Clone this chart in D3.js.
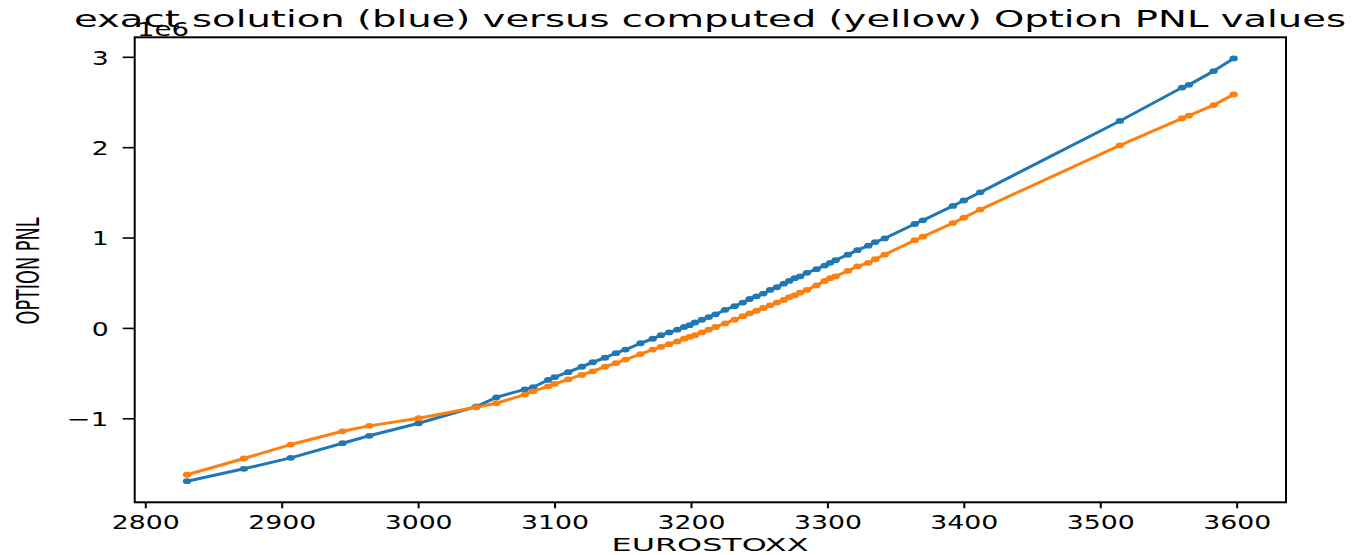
<!DOCTYPE html>
<html>
<head>
<meta charset="utf-8">
<script src="https://cdn.jsdelivr.net/npm/d3@7"></script>
<style>
  html, body { margin: 0; padding: 0; background: #fff; }
  svg { display: block; }
  text { font-family: "DejaVu Sans", sans-serif; fill: #000; }
</style>
</head>
<body>
<svg id="chart" width="1355" height="555"></svg>
<script>
// ---- data ----
const stoxx = [2830.6, 2872.3, 2906.6, 2944.6, 2964.2, 3000.4, 3042.6, 3057.4, 3078.2, 3084.3, 3095.3,
  3100, 3110, 3120, 3128, 3137, 3145, 3152, 3163, 3172, 3178, 3184, 3190, 3195, 3199, 3203, 3208, 3213,
  3218, 3225, 3232, 3238, 3243, 3248, 3253, 3258, 3263, 3268, 3272, 3276, 3280, 3285, 3292, 3298, 3302,
  3306, 3315, 3322, 3330, 3335, 3342, 3364, 3370, 3392, 3400, 3412, 3514.4, 3560, 3565, 3583.1, 3597.8];
const exactPnl = [-1.696, -1.559, -1.438, -1.276, -1.194, -1.055, -0.87, -0.768, -0.68, -0.657, -0.576,
  -0.545, -0.49, -0.43, -0.38, -0.33, -0.28, -0.24, -0.17, -0.12, -0.08, -0.05, -0.02, 0.01, 0.03, 0.06, 0.09, 0.12,
  0.15, 0.2, 0.24, 0.28, 0.32, 0.35, 0.38, 0.42, 0.45, 0.49, 0.52, 0.55, 0.57, 0.61, 0.65, 0.69, 0.72,
  0.75, 0.81, 0.86, 0.91, 0.95, 0.99, 1.15, 1.19, 1.35, 1.41, 1.5, 2.29, 2.66, 2.69, 2.842, 2.982].map(v => v * 1e6);
const computedPnl = [-1.625, -1.445, -1.291, -1.144, -1.084, -1.0, -0.878, -0.834, -0.738, -0.702, -0.646,
  -0.62, -0.57, -0.52, -0.48, -0.43, -0.39, -0.35, -0.29, -0.24, -0.21, -0.18, -0.15, -0.12, -0.1, -0.08, -0.05, -0.02,
  0.01, 0.05, 0.09, 0.13, 0.16, 0.19, 0.22, 0.25, 0.28, 0.31, 0.34, 0.36, 0.39, 0.42, 0.47, 0.52, 0.55,
  0.57, 0.63, 0.68, 0.72, 0.76, 0.81, 0.97, 1.01, 1.16, 1.22, 1.31, 2.021, 2.32, 2.35, 2.466, 2.584].map(v => v * 1e6);
const xTicks = [2800, 2900, 3000, 3100, 3200, 3300, 3400, 3500, 3600];
const yTicks = [-1e6, 0, 1e6, 2e6, 3e6];
const yTickLabels = ["\u22121", "0", "1", "2", "3"];
const titleText = "exact solution (blue) versus computed (yellow) Option PNL values";
const xLabel = "EUROSTOXX";
const yLabel = "OPTION PNL";
const offsetText = "1e6";

// ---- layout ----
const svg = d3.select("#chart");
const L = 134.7, R = 1286, T = 37.3, B = 502.3;

function padded(ext) { const r = ext[1] - ext[0]; return [ext[0] - 0.05 * r, ext[1] + 0.05 * r]; }
const x = d3.scaleLinear().domain(padded(d3.extent(stoxx))).range([L, R]);
const allY = exactPnl.concat(computedPnl);
const y = d3.scaleLinear().domain(padded(d3.extent(allY))).range([B, T]);

const series = [
  { vals: exactPnl, color: "#1f77b4" },
  { vals: computedPnl, color: "#ff7f0e" }
];

const plot = svg.append("g");
const line = d3.line().x((d, i) => x(stoxx[i])).y(d => y(d));
series.forEach(s => {
  plot.append("path").datum(s.vals)
    .attr("d", line).attr("fill", "none")
    .attr("stroke", s.color).attr("stroke-width", 3).attr("stroke-linejoin", "round");
  plot.selectAll(null).data(s.vals).enter().append("ellipse")
    .attr("cx", (d, i) => x(stoxx[i])).attr("cy", d => y(d))
    .attr("rx", 4.2).attr("ry", 2.9).attr("fill", s.color);
});

// axes
const xAxis = d3.axisBottom(x).tickValues(xTicks).tickSize(6).tickPadding(8).tickFormat(d3.format("d"));
const gx = svg.append("g").attr("transform", `translate(0,${B})`).call(xAxis);
gx.select(".domain").remove();
gx.selectAll(".tick line").attr("stroke", "#000").attr("stroke-width", 2);
gx.selectAll(".tick text").attr("font-size", 20).attr("y", 27).attr("dy", 0)
  .attr("textLength", 68).attr("lengthAdjust", "spacingAndGlyphs");

const yAxis = d3.axisLeft(y).tickValues(yTicks).tickSize(12).tickPadding(14)
  .tickFormat((d, i) => yTickLabels[i]);
const gy = svg.append("g").attr("transform", `translate(${L},0)`).call(yAxis);
gy.select(".domain").remove();
gy.selectAll(".tick line").attr("stroke", "#000").attr("stroke-width", 1.6);
gy.selectAll(".tick text").attr("font-size", 20).attr("dy", "0.36em")
  .each(function(d, i) {
    const w = yTickLabels[i].length === 1 ? 17 : 42;
    d3.select(this).attr("textLength", w).attr("lengthAdjust", "spacingAndGlyphs");
  });

// frame
svg.append("rect").attr("x", L).attr("y", T).attr("width", R - L).attr("height", B - T)
  .attr("fill", "none").attr("stroke", "#000").attr("stroke-width", 2);

// texts
svg.append("text").attr("x", 710).attr("y", 27).attr("text-anchor", "middle")
  .attr("font-size", 23).attr("textLength", 1272).attr("lengthAdjust", "spacingAndGlyphs")
  .text(titleText);
svg.append("text").attr("x", 137).attr("y", 36).attr("font-size", 20)
  .attr("textLength", 52).attr("lengthAdjust", "spacingAndGlyphs").text(offsetText);
svg.append("text").attr("x", 710).attr("y", 551).attr("text-anchor", "middle")
  .attr("font-size", 18).attr("textLength", 197).attr("lengthAdjust", "spacingAndGlyphs").text(xLabel);
svg.append("text").attr("transform", "translate(39,271) scale(1.6,1) rotate(-90)")
  .attr("text-anchor", "middle").attr("font-size", 20)
  .attr("textLength", 107).attr("lengthAdjust", "spacingAndGlyphs").text(yLabel);
</script>
</body>
</html>
